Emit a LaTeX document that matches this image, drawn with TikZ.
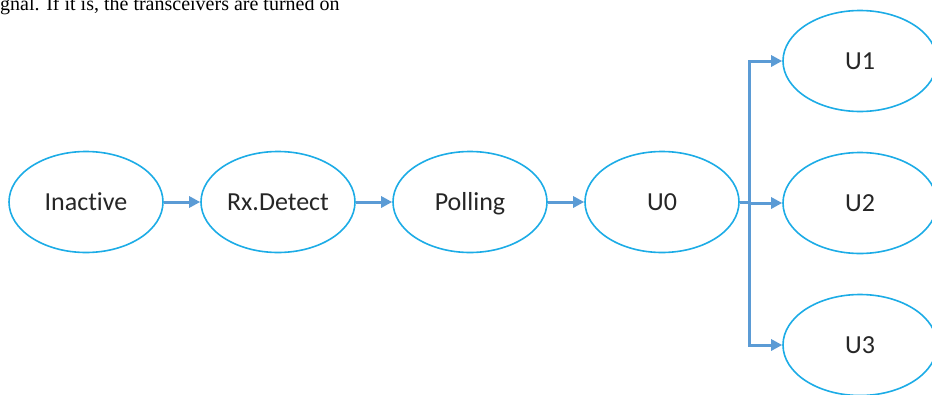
\documentclass[tikz,border=0pt]{standalone}
\usepackage{fontspec}
\setmainfont{Liberation Serif}
\newfontfamily\statefont[Ligatures={NoCommon}]{Carlito}
\usetikzlibrary{shapes.geometric,arrows.meta}

\definecolor{ringblue}{HTML}{1CACE6}
\definecolor{arrowblue}{HTML}{5B9BD5}

\tikzset{
  state/.style={ellipse, draw=ringblue, line width=1.6pt, fill=white,
    minimum width=154pt, minimum height=101pt, inner sep=0pt,
    text height=18pt, text depth=1.5pt,
    font=\statefont\fontsize{26}{30}\selectfont, text=black!85},
  flow/.style={draw=arrowblue, line width=3pt,
    -{Triangle[length=11pt,width=11pt]}},
  trunk/.style={draw=arrowblue, line width=3pt}
}

\begin{document}
\begin{tikzpicture}[x=1pt,y=-1pt]
  \useasboundingbox (0,0) rectangle (932,394);
  \clip (0,0) rectangle (932,394);

  % running text of the page, cut at the top edge
  \node[anchor=base west, inner sep=0pt, font=\fontsize{20}{22}\selectfont]
    (caption) at (0,10) {gnal. If it is, the transceivers are turned on};

  % link states
  \node[state] (inactive) at (86,202)  {Inactive};
  \node[state] (rxdetect) at (278,202) {Rx.Detect};
  \node[state] (polling)  at (470,202) {Polling};
  \node[state] (u0)       at (662,202) {U0};
  \node[state] (u1)       at (860,61)  {U1};
  \node[state] (u2)       at (860,203) {U2};
  \node[state] (u3)       at (860,345) {U3};

  % main chain
  \draw[flow] (inactive) -- (rxdetect);
  \draw[flow] (rxdetect) -- (polling);
  \draw[flow] (polling) -- (u0);

  % fan-out from U0 to the low-power states
  \coordinate (fork) at (749,202);
  \draw[trunk] (u0.east) -- (fork);
  \draw[flow] (fork) |- (u1.west);
  \draw[flow] (fork) -- (fork |- u2.west) -- (u2.west);
  \draw[flow] (fork) |- (u3.west);
\end{tikzpicture}
\end{document}
